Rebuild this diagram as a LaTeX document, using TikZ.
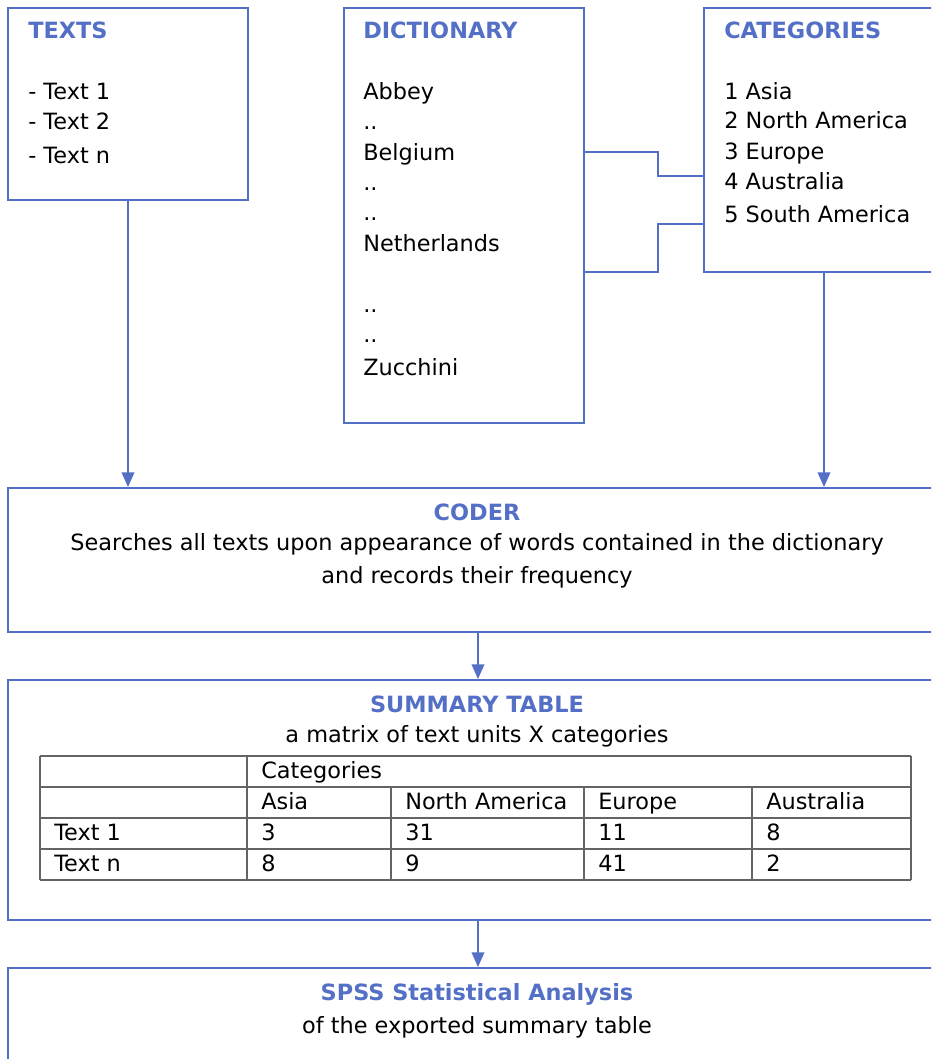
\documentclass[tikz,border=0pt]{standalone}
\usepackage{fontspec}
\setmainfont{DejaVu Sans}
\usepackage{xcolor}
\usepackage{tikz}
\usetikzlibrary{arrows.meta,positioning,calc}
\definecolor{boxblue}{RGB}{84,112,198}
\definecolor{gridgray}{RGB}{100,100,100}

\begin{document}
\fontsize{16.8}{20}\selectfont
\begin{tikzpicture}[x=0.75pt, y=-0.75pt,
    box/.style={rectangle, draw=boxblue, line width=1.5pt, anchor=north west, inner sep=0pt},
    title/.style={font=\bfseries, text=boxblue, anchor=base west, inner sep=0pt},
    item/.style={anchor=base west, inner sep=0pt},
    arrow/.style={draw, line width=1.1pt, -{Triangle[width=9.5pt,length=11pt]}, color=boxblue},
    link/.style={draw=boxblue, line width=1.1pt},
    grid/.style={draw=gridgray, line width=0.9pt}
]
    \useasboundingbox (0,0) rectangle (931,1059);
    \clip (0,0) rectangle (931,1059);

    % Boxes
    \node[box, minimum width=180pt, minimum height=144pt] (texts) at (7,7) {};
    \node[box, minimum width=180pt, minimum height=311.25pt] (dict) at (343,7) {};
    \node[box, minimum width=180pt, minimum height=198pt] (cats) at (703,7) {};
    \node[box, minimum width=705pt, minimum height=108pt] (coder) at (7,487) {};
    \node[box, minimum width=705pt, minimum height=180pt] (summary) at (7,679) {};
    \node[box, minimum width=705pt, minimum height=82.5pt] (spss) at (7,967) {};

    % Texts
    \node[title] (textsT) at (28,39) {TEXTS};
    \foreach \i/\t/\y in {1/- Text 1/100, 2/- Text 2/130, n/- Text n/164}
        \node[item] (texts\i) at (28,\y) {\t};

    % Dictionary
    \node[title] (dictT) at (363,39) {DICTIONARY};
    \foreach \i/\t/\y in {1/Abbey/100, 2/../130, 3/Belgium/161, 4/../191, 5/../221,
                          6/Netherlands/252, 7/../312, 8/../342, 9/Zucchini/375}
        \node[item] (dict\i) at (363,\y) {\t};

    % Categories
    \node[title] (catsT) at (724,39) {CATEGORIES};
    \foreach \i/\t/\y in {1/1 Asia/100, 2/2 North America/129, 3/3 Europe/160,
                          4/4 Australia/190, 5/5 South America/223}
        \node[item] (cats\i) at (724,\y) {\t};

    % Coder
    \node[title, anchor=base] (coderT) at (477,520) {CODER};
    \node[item, anchor=base] (coder1) at (477,550) {Searches all texts upon appearance of words contained in the dictionary};
    \node[item, anchor=base] (coder2) at (477,583) {and records their frequency};

    % Summary table
    \node[title, anchor=base] (summaryT) at (477,712) {SUMMARY TABLE};
    \node[item, anchor=base] (summary1) at (477,742) {a matrix of text units X categories};
    \foreach \y in {756,787,818,849,880}
        \draw[grid] (40,\y) -- (911,\y);
    \foreach \x in {40,247,911}
        \draw[grid] (\x,756) -- (\x,880);
    \foreach \x in {391,584,752}
        \draw[grid] (\x,787) -- (\x,880);
    \node[item] (cellCat) at (261,778) {Categories};
    \foreach \t [count=\i] in {Asia, North America, Europe, Australia}
        \node[item] (head\i) at ({\ifcase\i\or261\or405\or598\or766\fi},809) {\t};
    \foreach \r/\y/\a/\b/\c/\d/\e in {1/840/Text 1/3/31/11/8, n/871/Text n/8/9/41/2}{
        \node[item] (row\r a) at (54,\y) {\a};
        \node[item] (row\r b) at (261,\y) {\b};
        \node[item] (row\r c) at (405,\y) {\c};
        \node[item] (row\r d) at (598,\y) {\d};
        \node[item] (row\r e) at (766,\y) {\e};
    }

    % SPSS
    \node[title, anchor=base] (spssT) at (477,1000) {SPSS Statistical Analysis};
    \node[item, anchor=base] (spss1) at (477,1033) {of the exported summary table};

    % Arrows
    \path [arrow] (texts.south) -- (texts.south |- coder.north);
    \path [arrow] (cats.south) -- (cats.south |- coder.north);
    \path [arrow] (coder.south) -- (summary.north);
    \path [arrow] (summary.south) -- (spss.north);
    \path [link] (dict.east |- 0,152) -- ++(73,0) |- (cats.west |- 0,176);
    \path [link] (dict.east |- 0,272) -- ++(73,0) |- (cats.west |- 0,224);
\end{tikzpicture}
\end{document}
